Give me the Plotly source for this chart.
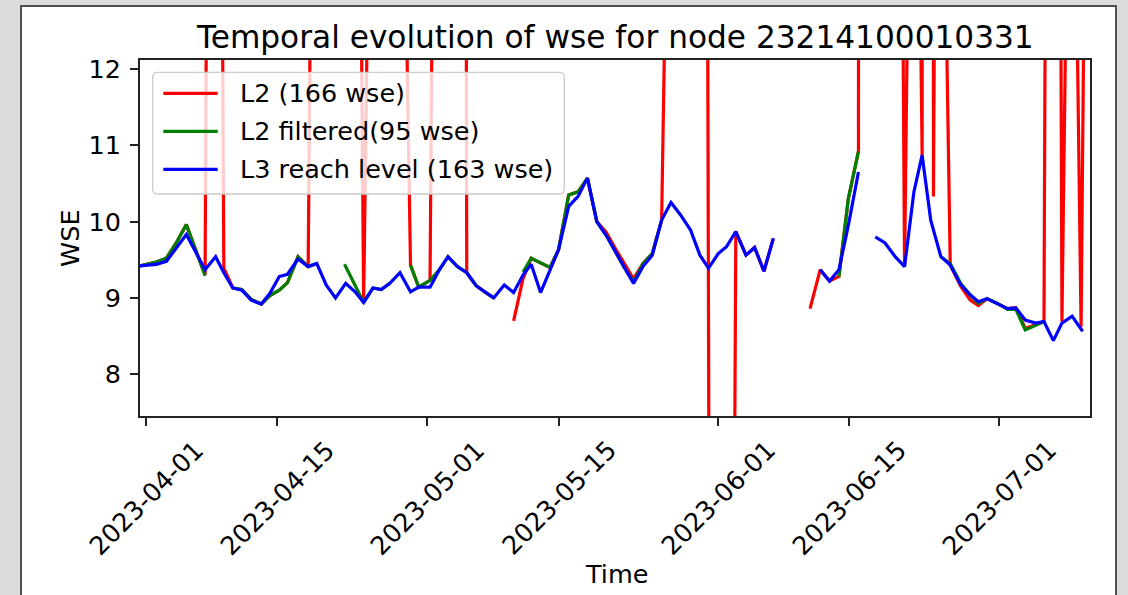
import plotly.graph_objects as go

# ---------------------------------------------------------------------------
# Water surface elevation time series for node 23214100010331
# ---------------------------------------------------------------------------

# L3 reach-level product (None marks a gap in the record)
l3_time = [
    "2023-03-31 08:00", "2023-04-01 04:00", "2023-04-02 02:00", "2023-04-03 04:00",
    "2023-04-04 05:00", "2023-04-05 07:00", "2023-04-06 07:00", "2023-04-07 07:00",
    "2023-04-08 10:00", "2023-04-09 07:00", "2023-04-10 06:00", "2023-04-11 05:00",
    "2023-04-12 05:00", "2023-04-13 07:00", "2023-04-14 05:00", "2023-04-15 05:00",
    "2023-04-16 02:00", "2023-04-17 05:00", "2023-04-18 07:00", "2023-04-19 05:00",
    "2023-04-20 05:00", "2023-04-21 05:00", "2023-04-22 07:00", "2023-04-23 07:00",
    "2023-04-24 05:00", "2023-04-25 05:00", "2023-04-26 02:00", "2023-04-27 00:00",
    "2023-04-28 02:00", "2023-04-29 05:00", "2023-04-30 02:00", "2023-05-01 07:00",
    "2023-05-02 07:00", "2023-05-03 05:00", "2023-05-04 05:00", "2023-05-05 05:00",
    "2023-05-06 05:00", "2023-05-07 02:00", "2023-05-08 02:00", "2023-05-09 05:00",
    "2023-05-10 05:00", "2023-05-11 05:00", "2023-05-12 02:00", "2023-05-13 02:00",
    "2023-05-14 02:00", "2023-05-15 00:00", "2023-05-16 02:00", "2023-05-17 02:00",
    "2023-05-18 02:00", "2023-05-19 02:00", "2023-05-20 02:00", "2023-05-21 00:00",
    "2023-05-22 00:00", "2023-05-23 00:00", "2023-05-24 00:00", "2023-05-25 00:00",
    "2023-05-26 00:00", "2023-05-27 00:00", "2023-05-28 00:00", "2023-05-29 02:00",
    "2023-05-30 02:00", "2023-05-31 00:00", "2023-06-01 01:00", "2023-06-01 22:00",
    "2023-06-02 22:00", "2023-06-04 00:00", "2023-06-04 22:00", "2023-06-05 22:00",
    "2023-06-06 22:00", "2023-06-09 00:00",
    "2023-06-11 22:00", "2023-06-12 22:00", "2023-06-13 22:00", "2023-06-14 22:00",
    "2023-06-16 00:00", "2023-06-16 22:00",
    "2023-06-17 19:00", "2023-06-18 20:00", "2023-06-19 22:00", "2023-06-20 22:00",
    "2023-06-21 22:00", "2023-06-22 19:00", "2023-06-23 17:00", "2023-06-24 19:00",
    "2023-06-25 19:00", "2023-06-26 22:00", "2023-06-27 22:00", "2023-06-28 19:00",
    "2023-06-29 17:00", "2023-06-30 19:00", "2023-07-01 22:00", "2023-07-02 19:00",
    "2023-07-03 19:00", "2023-07-04 22:00", "2023-07-05 19:00", "2023-07-06 19:00",
    "2023-07-07 17:00", "2023-07-08 19:00", "2023-07-09 22:00",
]
l3_wse = [
    9.42, 9.43, 9.44, 9.48, 9.65, 9.83, 9.60, 9.37,
    9.54, 9.33, 9.13, 9.10, 8.97, 8.92, 9.06, 9.28,
    9.31, 9.51, 9.41, 9.45, 9.17, 9.00, 9.19, 9.08,
    8.94, 9.13, 9.11, 9.19, 9.33, 9.08, 9.14, 9.14,
    9.37, 9.54, 9.41, 9.33, 9.16, 9.08, 9.00, 9.17,
    9.07, 9.30, 9.44, 9.07, 9.35, 9.63, 10.20, 10.33,
    10.57, 10.00, 9.82, 9.62, 9.40, 9.19, 9.41, 9.56,
    10.02, 10.25, 10.09, 9.89, 9.56, 9.39, 9.58, 9.67,
    9.87, 9.56, 9.66, 9.35, 9.78, None,
    9.37, 9.22, 9.37, 9.95, 10.65, None,
    9.80, 9.72, 9.54, 9.41, 10.39, 10.87, 10.02, 9.54,
    9.43, 9.17, 9.04, 8.95, 8.99, 8.93, 8.86, 8.87,
    8.71, 8.67, 8.69, 8.44, 8.67, 8.76, 8.56,
]

# L2 node product after outlier filtering
l2f_time = [
    "2023-03-31 08:00", "2023-04-01 04:00", "2023-04-02 02:00", "2023-04-03 04:00",
    "2023-04-04 05:00", "2023-04-05 07:00", "2023-04-06 07:00", "2023-04-07 07:00",
    "2023-04-08 10:00",
    "2023-04-10 06:00", "2023-04-11 05:00", "2023-04-12 05:00", "2023-04-13 07:00",
    "2023-04-14 05:00", "2023-04-15 05:00", "2023-04-16 02:00", "2023-04-17 05:00",
    "2023-04-18 07:00", "2023-04-19 05:00", "2023-04-20 05:00",
    "2023-04-22 04:00", "2023-04-24 05:00", "2023-04-25 05:00", "2023-04-26 02:00",
    "2023-04-27 00:00", "2023-04-28 02:00",
    "2023-04-29 05:00", "2023-04-30 02:00", "2023-05-01 07:00", "2023-05-02 07:00",
    "2023-05-03 05:00", "2023-05-04 05:00", "2023-05-05 05:00", "2023-05-06 05:00",
    "2023-05-07 02:00", "2023-05-08 02:00", "2023-05-09 05:00",
    "2023-05-11 05:00", "2023-05-12 02:00", "2023-05-14 02:00", "2023-05-15 00:00",
    "2023-05-16 02:00", "2023-05-17 02:00", "2023-05-18 02:00", "2023-05-19 02:00",
    "2023-05-20 02:00", "2023-05-21 00:00", "2023-05-22 00:00", "2023-05-23 00:00",
    "2023-05-24 00:00", "2023-05-25 00:00", "2023-05-26 00:00", "2023-05-27 00:00",
    "2023-06-13 22:00", "2023-06-14 22:00", "2023-06-16 00:00", "2023-06-20 00:00",
    "2023-06-24 19:00", "2023-06-25 19:00", "2023-06-26 22:00", "2023-06-27 22:00",
    "2023-06-28 19:00", "2023-06-29 17:00", "2023-06-30 19:00", "2023-07-01 22:00",
    "2023-07-02 19:00", "2023-07-03 19:00", "2023-07-04 22:00", "2023-07-05 19:00",
]
l2f_wse = [
    9.42, 9.44, 9.47, 9.52, 9.72, 9.96, 9.62, 9.29,
    None,
    9.13, 9.11, 8.98, 8.92, 9.03, 9.10, 9.20, 9.54,
    9.41, 9.45, None,
    9.44, 8.94, 9.13, 9.11, 9.19, None,
    9.43, 9.14, 9.23, 9.37, 9.54, 9.41, 9.33, 9.16,
    9.08, 9.00, None,
    9.34, 9.52, 9.40, 9.63, 10.35, 10.39, 10.57, 10.00,
    9.82, 9.62, 9.40, 9.21, 9.45, 9.58, 10.02, None,
    9.28, 10.30, 10.92, None,
    9.54, 9.45, 9.19, 9.04, 8.93, 8.99, 8.93, 8.85,
    8.85, 8.58, 8.64, 8.69,
]

# Raw L2 node product, including the outliers
l2_time = [
    "2023-03-31 08:00", "2023-04-01 04:00", "2023-04-02 02:00", "2023-04-03 04:00",
    "2023-04-04 05:00", "2023-04-05 07:00", "2023-04-06 07:00", "2023-04-07 07:00",
    "2023-04-08 06:00", "2023-04-09 07:00", "2023-04-10 06:00", "2023-04-11 05:00",
    "2023-04-12 05:00", "2023-04-13 07:00", "2023-04-14 05:00", "2023-04-15 05:00",
    "2023-04-16 02:00", "2023-04-17 05:00", "2023-04-18 07:00", "2023-04-21 05:30",
    "2023-04-24 05:00", "2023-04-26 10:30", "2023-04-29 05:00", "2023-04-30 02:00",
    "2023-05-01 07:00", "2023-05-04 11:00", "2023-05-05 05:00", "2023-05-06 05:00",
    "2023-05-07 02:00", "2023-05-08 02:00", "2023-05-09 05:00",
    "2023-05-10 05:00", "2023-05-11 05:00", "2023-05-12 02:00", "2023-05-14 02:00",
    "2023-05-15 00:00", "2023-05-16 02:00", "2023-05-17 02:00", "2023-05-18 02:00",
    "2023-05-19 02:00", "2023-05-20 02:00", "2023-05-21 00:00", "2023-05-22 00:00",
    "2023-05-23 00:00", "2023-05-24 00:00", "2023-05-25 00:00", "2023-05-26 00:00",
    "2023-05-30 05:45", "2023-05-31 23:45", "2023-06-02 22:00", "2023-06-04 00:00",
    "2023-06-04 22:00", "2023-06-05 22:00", "2023-06-06 22:00", "2023-06-08 00:00",
    "2023-06-10 20:00", "2023-06-11 22:00", "2023-06-12 22:00", "2023-06-13 22:00",
    "2023-06-14 22:00", "2023-06-16 00:00", "2023-06-16 03:00", "2023-06-20 22:00",
    "2023-06-21 22:00", "2023-06-22 19:00", "2023-06-23 08:00", "2023-06-24 00:00",
    "2023-06-24 10:00", "2023-06-25 19:00", "2023-06-26 22:00", "2023-06-27 22:00",
    "2023-06-28 19:00", "2023-06-29 17:00", "2023-06-30 19:00", "2023-07-01 22:00",
    "2023-07-02 19:00", "2023-07-03 19:00", "2023-07-04 22:00", "2023-07-05 19:00",
    "2023-07-06 19:00", "2023-07-07 17:00", "2023-07-08 17:00", "2023-07-09 18:00",
    "2023-07-10 08:00",
]
l2_wse = [
    9.42, 9.44, 9.47, 9.52, 9.72, 9.96, 9.62, 9.30,
    33.6, 9.39, 9.13, 9.11, 8.98, 8.92, 9.03, 9.10,
    9.20, 9.54, 9.41, 53.6,
    8.94, 30.0, 9.43, 9.14,
    9.23, 60.0, 9.33, 9.16,
    9.08, 9.00, None,
    8.70, 9.25, 9.52, 9.40,
    9.63, 10.35, 10.39, 10.57,
    10.00, 9.86, 9.66, 9.45,
    9.25, 9.45, 9.58, 10.02,
    42.0, -34.5, 9.87, 9.56,
    9.66, 9.35, 9.78, None,
    8.86, 9.37, 9.22, 9.28,
    10.30, 10.92, 100.0, 9.41,
    20.0, 10.87, 200.0, 10.33,
    20.0, 9.43, 9.15, 8.97,
    8.90, 8.99, 8.93, 8.86,
    8.87, 8.60, 8.65, 8.69,
    40.0, 8.69, 18.4, 8.62,
    16.7,
]

series_labels = ["L2 (166 wse)", "L2 filtered(95 wse)", "L3 reach level (163 wse)"]
series_colors = ["#ff0000", "#008000", "#0000ff"]

tick_dates = ["2023-04-01", "2023-04-15", "2023-05-01", "2023-05-15",
              "2023-06-01", "2023-06-15", "2023-07-01"]
y_ticks = [8, 9, 10, 11, 12]

title_text = "Temporal evolution of wse for node 23214100010331"

# ---------------------------------------------------------------------------
# Page geometry (pixels) and helpers to place decorations in paper units
# ---------------------------------------------------------------------------
W, H = 1128, 595
ML, MR, MT, MB = 140, 38, 60, 179
PW = W - ML - MR
PH = H - MT - MB
FONT = "DejaVu Sans"
FS = 25.5


def px(x):
    return (x - ML) / PW


def py(y):
    return (H - MB - y) / PH


fig = go.Figure()
for t, v, name, col in zip([l2_time, l2f_time, l3_time],
                           [l2_wse, l2f_wse, l3_wse],
                           series_labels, series_colors):
    fig.add_trace(go.Scatter(x=t, y=v, mode="lines", name=name,
                             line=dict(color=col, width=3.2),
                             connectgaps=False, showlegend=False))

axis_common = dict(showline=True, mirror=True, linecolor="#222222", linewidth=2,
                   ticks="outside", ticklen=8, tickwidth=2, tickcolor="#222222",
                   showgrid=False, zeroline=False)

fig.update_xaxes(range=["2023-03-31 08:20", "2023-07-10 16:50"],
                 tickvals=tick_dates, showticklabels=False, **axis_common)
fig.update_yaxes(range=[7.452, 12.118], tickvals=y_ticks,
                 ticktext=[str(v) for v in y_ticks],
                 tickfont=dict(family=FONT, size=FS, color="black"),
                 ticklabelstandoff=4, **axis_common)

shapes = []
# white figure panel framed in dark grey
shapes.append(dict(type="rect", xref="paper", yref="paper",
                   x0=px(21), x1=px(1116), y0=py(640), y1=py(6),
                   fillcolor="white", line=dict(color="#505050", width=2),
                   layer="below"))

# legend frame with rounded corners
lx0, lx1, ly0, ly1, r = 152.7, 564.3, 72.3, 194.0, 5.0


def pt(x, y):
    return f"{px(x):.6f},{py(y):.6f}"


path = (f"M {pt(lx0 + r, ly0)} L {pt(lx1 - r, ly0)} Q {pt(lx1, ly0)} {pt(lx1, ly0 + r)} "
        f"L {pt(lx1, ly1 - r)} Q {pt(lx1, ly1)} {pt(lx1 - r, ly1)} "
        f"L {pt(lx0 + r, ly1)} Q {pt(lx0, ly1)} {pt(lx0, ly1 - r)} "
        f"L {pt(lx0, ly0 + r)} Q {pt(lx0, ly0)} {pt(lx0 + r, ly0)} Z")
shapes.append(dict(type="path", xref="paper", yref="paper", path=path,
                   fillcolor="rgba(255,255,255,0.8)",
                   line=dict(color="#cccccc", width=1.3), layer="above"))

annotations = []
row_y = [93.3, 131.3, 169.3]
for name, col, ry in zip(series_labels, series_colors, row_y):
    shapes.append(dict(type="line", xref="paper", yref="paper",
                       x0=px(163.3), x1=px(217.7), y0=py(ry), y1=py(ry),
                       line=dict(color=col, width=3.2), layer="above"))
    annotations.append(dict(text=name, xref="paper", yref="paper",
                            x=px(237.5), y=py(ry), xanchor="left", yanchor="middle",
                            showarrow=False,
                            font=dict(family=FONT, size=FS, color="black")))

# rotated date labels under the x axis
for d in tick_dates:
    annotations.append(dict(text=d, xref="x", yref="paper", x=d, y=py(432),
                            xanchor="center", yanchor="top", textangle=-45,
                            showarrow=False,
                            font=dict(family=FONT, size=FS, color="black")))

annotations.append(dict(text="Time", xref="paper", yref="paper", x=px(616), y=py(574),
                        xanchor="center", yanchor="middle", showarrow=False,
                        font=dict(family=FONT, size=FS, color="black")))
annotations.append(dict(text="WSE", xref="paper", yref="paper", x=px(70), y=py(238),
                        xanchor="center", yanchor="middle", textangle=-90,
                        showarrow=False,
                        font=dict(family=FONT, size=FS, color="black")))
annotations.append(dict(text=title_text, xref="paper", yref="paper", x=px(615), y=py(37),
                        xanchor="center", yanchor="middle", showarrow=False,
                        font=dict(family=FONT, size=31.2, color="black")))

fig.update_layout(width=W, height=H,
                  margin=dict(l=ML, r=MR, t=MT, b=MB, pad=0),
                  paper_bgcolor="#dcdcdc", plot_bgcolor="white",
                  shapes=shapes, annotations=annotations, showlegend=False)

fig.write_html("out.html")
